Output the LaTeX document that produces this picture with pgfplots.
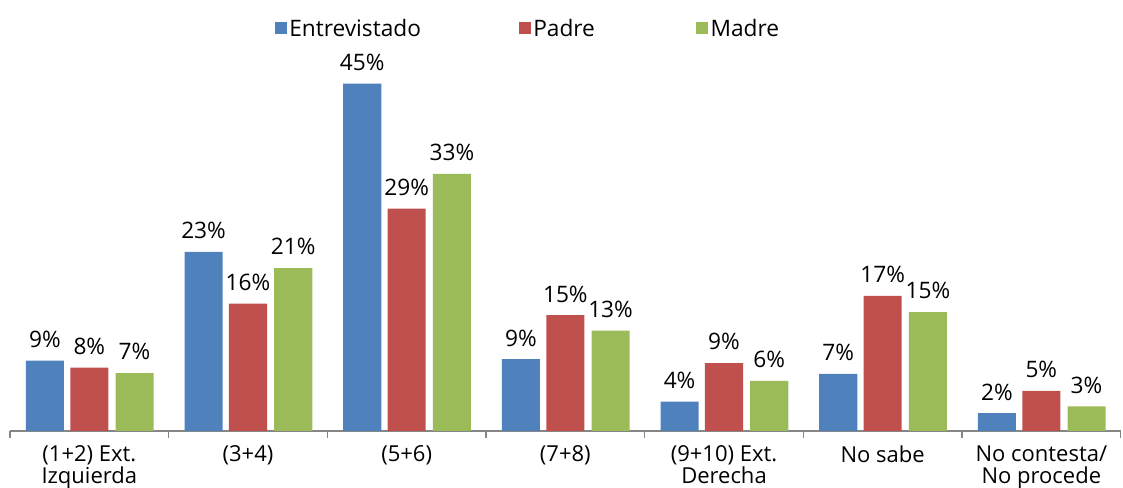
\documentclass[border=0pt]{standalone}
\usepackage{pgfplots}
\pgfplotsset{compat=1.18}
\usepackage{fontspec}
\setmainfont{Open Sans}
\definecolor{cBlue}{HTML}{4F81BD}
\definecolor{cRed}{HTML}{C0504D}
\definecolor{cGreen}{HTML}{9BBB59}
\definecolor{cAxis}{HTML}{868686}
\begin{document}
\begin{tikzpicture}[font=\fontsize{17}{18}\selectfont]
\useasboundingbox (-7.5pt,-42.75pt) rectangle (834.75pt,323.25pt);
\begin{axis}[
  at={(0pt,0pt)}, anchor=south west,
  scale only axis, width=833pt, height=289.5pt,
  xmin=-0.5, xmax=6.5, ymin=0, ymax=50,
  axis x line=bottom, axis y line=none,
  axis line style={cAxis, line width=0.9pt, -},
  xtick={0,...,6},
  xticklabels={{(1+2) Ext.\\Izquierda},{(3+4)},{(5+6)},{(7+8)},{(9+10) Ext.\\Derecha},{No sabe},{No contesta/\\No procede}},
  major tick length=0pt,
  minor xtick={-0.5,0.5,...,6.5},
  minor tick length=5pt,
  minor tick style={cAxis, line width=0.9pt},
  xticklabel style={align=center, anchor=north, yshift=-7.5pt, text depth=0pt,
    font=\fontsize{16.5}{16.5}\selectfont},
  ytick=\empty,
  bar width=0.24,
  ybar,
  point meta=explicit symbolic,
  nodes near coords={\pgfplotspointmeta\%},
  nodes near coords style={font=\fontsize{17}{18}\selectfont, inner sep=2pt, yshift=7.5pt},
  every axis plot/.append style={draw=none},
  legend columns=3,
  legend style={draw=none, fill=none, at={(0.238,1.043)}, anchor=west,
    /tikz/every even column/.append style={column sep=0pt},
    font=\fontsize{17}{18}\selectfont, inner sep=0pt},
  legend image code/.code={\fill[#1] (0pt,-4.5pt) rectangle (9pt,4.5pt);},
  clip=false,
]
\addplot[fill=cBlue, bar shift=-0.28] coordinates {
  (0,9.1) [9] (1,23.2) [23] (2,45.0) [45] (3,9.3) [9] (4,3.8) [4] (5,7.4) [7] (6,2.3) [2]};
\addplot[fill=cRed, bar shift=0] coordinates {
  (0,8.2) [8] (1,16.5) [16] (2,28.8) [29] (3,15.0) [15] (4,8.8) [9] (5,17.5) [17] (6,5.2) [5]};
\addplot[fill=cGreen, bar shift=0.285] coordinates {
  (0,7.5) [7] (1,21.1) [21] (2,33.3) [33] (3,13.0) [13] (4,6.5) [6] (5,15.4) [15] (6,3.2) [3]};
\addlegendentry{\makebox[170pt][l]{Entrevistado}}
\addlegendentry{\makebox[120pt][l]{Padre}}
\addlegendentry{Madre}
\end{axis}
\end{tikzpicture}
\end{document}
